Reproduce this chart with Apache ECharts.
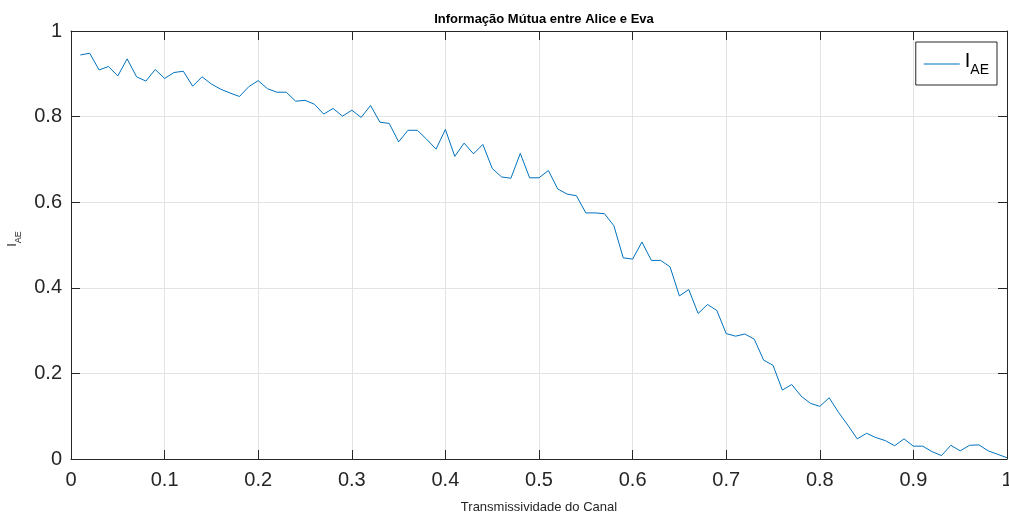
<!DOCTYPE html>
<html>
<head>
<meta charset="utf-8">
<script src="https://cdn.jsdelivr.net/npm/echarts@6/dist/echarts.min.js"></script>
<style>html,body{margin:0;padding:0;background:#fff}#c{width:1009px;height:514px}</style>
</head>
<body>
<div id="c"></div>
<script>
const xValues = [];
for (let i = 1; i <= 100; i++) xValues.push(+(i / 100).toFixed(2));
const iAE = [
  0.944,0.948,0.909,0.917,0.895,0.935,0.893,0.883,0.910,0.889,
  0.903,0.906,0.871,0.893,0.876,0.864,0.855,0.847,0.870,0.884,
  0.865,0.857,0.857,0.836,0.838,0.829,0.806,0.819,0.801,0.815,
  0.798,0.826,0.787,0.784,0.741,0.768,0.768,0.747,0.724,0.770,
  0.707,0.738,0.713,0.735,0.679,0.659,0.656,0.714,0.657,0.657,
  0.674,0.631,0.619,0.615,0.575,0.575,0.573,0.545,0.470,0.467,
  0.507,0.464,0.464,0.449,0.381,0.396,0.340,0.361,0.347,0.293,
  0.287,0.292,0.280,0.231,0.219,0.161,0.174,0.147,0.130,0.123,
  0.143,0.109,0.079,0.047,0.060,0.050,0.043,0.031,0.047,0.030,
  0.030,0.017,0.008,0.032,0.019,0.032,0.033,0.019,0.011,0.003
];
const titleText = 'Informação Mútua entre Alice e Eva';
const xLabel = 'Transmissividade do Canal';

const font = '"Liberation Sans", Arial, Helvetica, sans-serif';
const dark = '#262626';
const gridColor = '#e3e3e3';

const chart = echarts.init(document.getElementById('c'), null, {renderer: 'canvas'});
const axisCommon = {
  axisLine: {show: true, onZero: false, lineStyle: {color: dark, width: 1}},
  axisTick: {show: true, inside: true, length: 9, lineStyle: {color: dark}},
};
chart.setOption({
  animation: false,
  backgroundColor: '#fff',
  title: {
    text: titleText, left: 539, top: 8, textAlign: 'center',
    textStyle: {fontFamily: font, fontSize: 13, fontWeight: 'bold', color: '#000'}
  },
  legend: {
    right: 12, top: 42,
    data: ['IAE'],
    icon: 'path://M0,0 L36,0 L36,1 L0,1 Z',
    itemWidth: 36, itemHeight: 1,
    itemGap: 4,
    padding: [9, 8, 8, 8],
    borderColor: dark, borderWidth: 1, backgroundColor: '#fff',
    formatter: function () { return '{i|I}{s|AE}'; },
    textStyle: {
      fontFamily: font, color: '#000',
      rich: {
        i: {fontSize: 20, fontFamily: font, color: '#000', lineHeight: 26, verticalAlign: 'top'},
        s: {fontSize: 14, fontFamily: font, color: '#000', lineHeight: 26, padding: [12, 0, 0, 0]}
      }
    }
  },
  grid: {left: 71, right: 2, top: 31, bottom: 55, containLabel: false, outerBoundsMode: 'none'},
  xAxis: [
    Object.assign({
      type: 'value', min: 0, max: 1, interval: 0.1, position: 'bottom',
      name: xLabel, nameLocation: 'middle', nameGap: 42,
      nameTextStyle: {fontFamily: font, fontSize: 13, color: dark},
      axisLabel: {fontFamily: font, fontSize: 20, color: dark, margin: 11,
        formatter: v => (Math.abs(v) < 1e-9 ? '0' : (+v.toFixed(1)).toString())},
      splitLine: {show: true, lineStyle: {color: gridColor, width: 1}}
    }, axisCommon),
    Object.assign({
      type: 'value', min: 0, max: 1, interval: 0.1, position: 'top',
      axisLabel: {show: false}, splitLine: {show: false}
    }, axisCommon)
  ],
  yAxis: [
    Object.assign({
      type: 'value', min: 0, max: 1, interval: 0.2, position: 'left',
      name: '{i|I}{s|AE}', nameLocation: 'middle', nameGap: 44, nameRotate: 90,
      nameTextStyle: {
        fontFamily: font, color: dark, padding: [0, 0, 0, 12],
        rich: {
          i: {fontSize: 13, fontFamily: font, color: dark, lineHeight: 18, verticalAlign: 'top'},
          s: {fontSize: 9, fontFamily: font, color: dark, lineHeight: 18, padding: [8, 0, 0, 0]}
        }
      },
      axisLabel: {fontFamily: font, fontSize: 20, color: dark, margin: 9,
        formatter: v => (Math.abs(v) < 1e-9 ? '0' : (Math.abs(v - 1) < 1e-9 ? '1' : (+v.toFixed(1)).toString()))},
      splitLine: {show: true, lineStyle: {color: gridColor, width: 1}}
    }, axisCommon),
    Object.assign({
      type: 'value', min: 0, max: 1, interval: 0.2, position: 'right',
      axisLabel: {show: false}, splitLine: {show: false}
    }, axisCommon)
  ],
  series: [{
    name: 'IAE', type: 'line',
    xAxisIndex: 0, yAxisIndex: 0,
    data: xValues.map((x, i) => [x, iAE[i]]),
    symbol: 'none', showSymbol: false,
    lineStyle: {color: '#0072BD', width: 1},
    itemStyle: {color: '#0072BD'}
  }]
});
</script>
</body>
</html>
